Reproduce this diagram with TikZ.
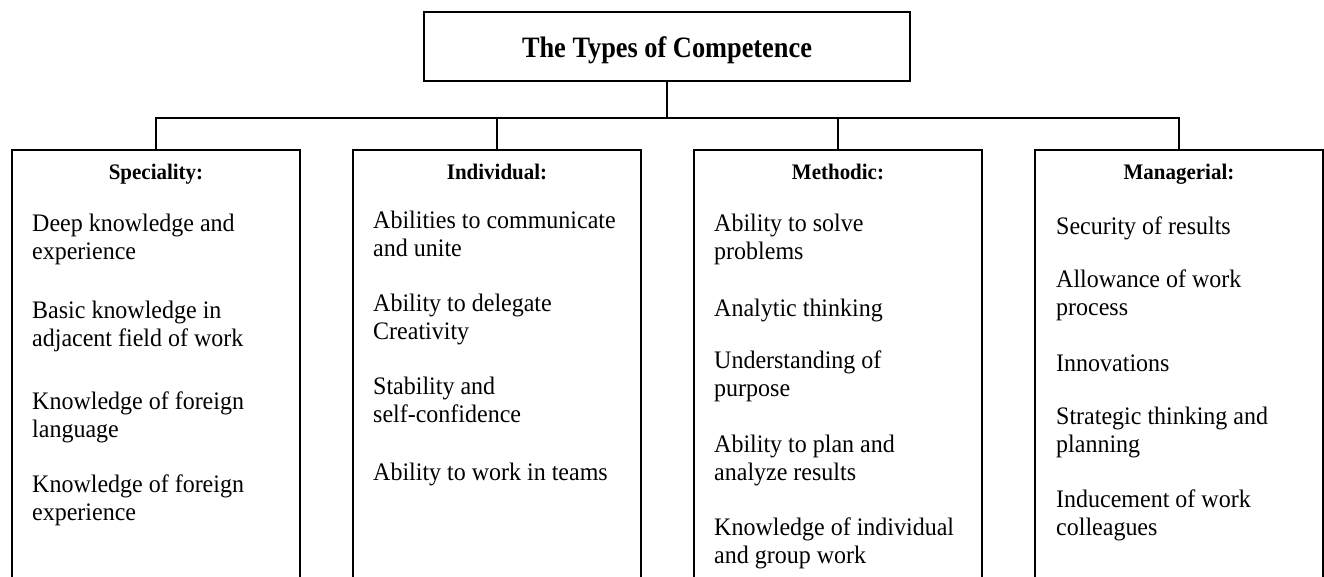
\documentclass[tikz,border=0pt]{standalone}
\usepackage{fontspec}
\setmainfont{Liberation Serif}
\newfontfamily\bodyfam[FakeStretch=0.952]{Liberation Serif}
\newfontfamily\headfam[FakeStretch=0.945]{Liberation Serif}
\newfontfamily\titlefam[FakeStretch=0.89]{Liberation Serif}
\newcommand\bodyfont{\bodyfam\fontsize{25.2}{27.7}\selectfont}
\newcommand\headfont{\headfam\fontsize{22.2}{25}\selectfont\bfseries}
\newcommand\titlefont{\titlefam\fontsize{29.6}{32}\selectfont\bfseries}
\begin{document}
\begin{tikzpicture}[x=1pt,y=-1pt,
  conn/.style={line width=1.5pt},
  topbox/.style={draw, line width=1.8pt, inner sep=0pt, minimum width=486pt, minimum height=69pt,
    text height=24pt, text depth=3pt, font=\titlefont},
  catbox/.style={draw, line width=1.8pt, inner sep=0pt, anchor=north, minimum width=288pt, minimum height=500pt},
  head/.style={anchor=base, inner sep=0pt, font=\headfont},
  item/.style={anchor=north west, inner sep=0pt, align=left, font=\bodyfont,
    execute at begin node={\rule{0pt}{20pt}}}]
\useasboundingbox (0,0) rectangle (1324,576);
\clip (0,0) rectangle (1324,576);

\node[topbox] (title) at (667,46.5) {The Types of Competence};

\node[catbox] (spec)  at (156,149) {};
\node[catbox] (indiv) at (497,149) {};
\node[catbox] (meth)  at (838,149) {};
\node[catbox] (manag) at (1179,149) {};

\path (title.south) ++(0,36) coordinate (hub);
\draw[conn] (title.south) -- (hub);
\draw[conn] (spec.north) |- (hub) -| (manag.north);
\draw[conn] (indiv.north) -- (indiv.north |- hub);
\draw[conn] (meth.north) -- (meth.north |- hub);

\node[head] (hs) at (156,179) {Speciality:};
\node[head] (hi) at (497,179) {Individual:};
\node[head] (hm) at (838,179) {Methodic:};
\node[head] (hg) at (1179,179) {Managerial:};

\node[item] (s1) at (32,214) {Deep knowledge and\\experience};
\node[item] (s2) at (32,301) {Basic knowledge in\\adjacent field of work};
\node[item] (s3) at (32,392) {Knowledge of foreign\\language};
\node[item] (s4) at (32,475) {Knowledge of foreign\\experience};

\node[item] (i1) at (373,211) {Abilities to communicate\\and unite};
\node[item] (i2) at (373,294) {Ability to delegate\\Creativity};
\node[item] (i3) at (373,377) {Stability and\\self-confidence};
\node[item] (i4) at (373,460) {Ability to work in teams};

\node[item] (m1) at (714,214) {Ability to solve\\problems};
\node[item] (m2) at (714,296) {Analytic thinking};
\node[item] (m3) at (714,351) {Understanding of\\purpose};
\node[item] (m4) at (714,435) {Ability to plan and\\analyze results};
\node[item] (m5) at (714,518) {Knowledge of individual\\and group work};

\node[item] (g1) at (1056,214) {Security of results};
\node[item] (g2) at (1056,270) {Allowance of work\\process};
\node[item] (g3) at (1056,351) {Innovations};
\node[item] (g4) at (1056,407) {Strategic thinking and\\planning};
\node[item] (g5) at (1056,490) {Inducement of work\\colleagues};
\end{tikzpicture}
\end{document}
